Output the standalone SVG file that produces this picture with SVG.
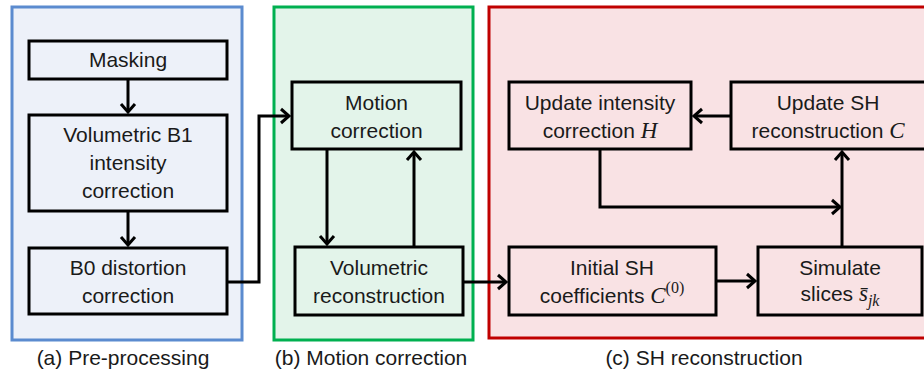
<svg xmlns="http://www.w3.org/2000/svg" width="924" height="376" viewBox="0 0 924 376">
<style>
  .panel{stroke-width:3}
  .node{stroke:#000;stroke-width:3}
  .t{font-family:"Liberation Sans",Arial,sans-serif;font-size:21px;fill:#1a1a1a;text-anchor:middle}
  .m{font-family:"Liberation Serif","Times New Roman",serif;font-style:italic;font-size:23px}
  .sub{font-family:"Liberation Serif","Times New Roman",serif;font-style:italic;font-size:16px}
  .sup{font-family:"Liberation Serif","Times New Roman",serif;font-size:16px}
  .conn{fill:none;stroke:#000;stroke-width:3}
</style>
<defs>
  <marker id="arr" markerUnits="userSpaceOnUse" markerWidth="20" markerHeight="20" refX="0" refY="0" viewBox="-10 -10 20 20" orient="auto" overflow="visible">
    <path d="M-8,-7 L0,0 L-8,7" fill="none" stroke="#000" stroke-width="3"/>
  </marker>
</defs>
<rect width="924" height="376" fill="#ffffff"/>

<g id="panel-a">
  <rect class="panel" x="12" y="7" width="230" height="333" fill="#edf1f9" stroke="#5b8bcf"/>
  <text class="t" x="123" y="365">(a) Pre-processing</text>
</g>
<g id="panel-b">
  <rect class="panel" x="274" y="7" width="199" height="333" fill="#e3f4ea" stroke="#00b050"/>
  <text class="t" x="371" y="365">(b) Motion correction</text>
</g>
<g id="panel-c">
  <rect class="panel" x="489" y="7" width="445" height="331" fill="#f9e2e4" stroke="#c00000"/>
  <text class="t" x="704" y="365">(c) SH reconstruction</text>
</g>

<g id="masking">
  <rect class="node" x="29" y="41" width="198" height="38" fill="#edf1f9"/>
  <text class="t" x="128" y="67">Masking</text>
</g>
<g id="b1">
  <rect class="node" x="29" y="115" width="198" height="96" fill="#edf1f9"/>
  <text class="t" x="128" y="142">Volumetric B1</text>
  <text class="t" x="128" y="170">intensity</text>
  <text class="t" x="128" y="198">correction</text>
</g>
<g id="b0">
  <rect class="node" x="29" y="248" width="198" height="66" fill="#edf1f9"/>
  <text class="t" x="128" y="275">B0 distortion</text>
  <text class="t" x="128" y="303">correction</text>
</g>
<g id="motion">
  <rect class="node" x="292" y="82" width="169" height="67" fill="#e3f4ea"/>
  <text class="t" x="376.5" y="110">Motion</text>
  <text class="t" x="376.5" y="138">correction</text>
</g>
<g id="volrec">
  <rect class="node" x="295" y="247" width="168" height="68" fill="#e3f4ea"/>
  <text class="t" x="379" y="275">Volumetric</text>
  <text class="t" x="379" y="303">reconstruction</text>
</g>
<g id="upd-int">
  <rect class="node" x="509" y="82" width="182" height="67" fill="#f9e2e4"/>
  <text class="t" x="600" y="110">Update intensity</text>
  <text class="t" x="600" y="138">correction <tspan class="m">H</tspan></text>
</g>
<g id="upd-sh">
  <rect class="node" x="731" y="82" width="196" height="67" fill="#f9e2e4"/>
  <text class="t" x="828" y="110">Update SH</text>
  <text class="t" x="828" y="138">reconstruction <tspan class="m">C</tspan></text>
</g>
<g id="initial">
  <rect class="node" x="509" y="247" width="207" height="68" fill="#f9e2e4"/>
  <text class="t" x="612" y="275">Initial SH</text>
  <text class="t" x="612" y="303">coefficients <tspan class="m">C</tspan><tspan class="sup" dy="-10">(0)</tspan></text>
</g>
<g id="simulate">
  <rect class="node" x="758" y="247" width="164" height="68" fill="#f9e2e4"/>
  <text class="t" x="840" y="275">Simulate</text>
  <text class="t" x="840" y="301">slices <tspan class="m">s̄</tspan><tspan class="sub" dy="5">jk</tspan></text>
</g>

<g id="connectors">
  <path class="conn" d="M128,79 V112" marker-end="url(#arr)"/>
  <path class="conn" d="M128,211 V245" marker-end="url(#arr)"/>
  <path class="conn" d="M227,282 H259 V116 H289" marker-end="url(#arr)"/>
  <path class="conn" d="M327,149 V244" marker-end="url(#arr)"/>
  <path class="conn" d="M414,247 V152" marker-end="url(#arr)"/>
  <path class="conn" d="M463,282 H506" marker-end="url(#arr)"/>
  <path class="conn" d="M716,281 H755" marker-end="url(#arr)"/>
  <path class="conn" d="M842,247 V152" marker-end="url(#arr)"/>
  <path class="conn" d="M731,116 H694" marker-end="url(#arr)"/>
  <path class="conn" d="M600,149 V207 H840" marker-end="url(#arr)"/>
</g>
</svg>
